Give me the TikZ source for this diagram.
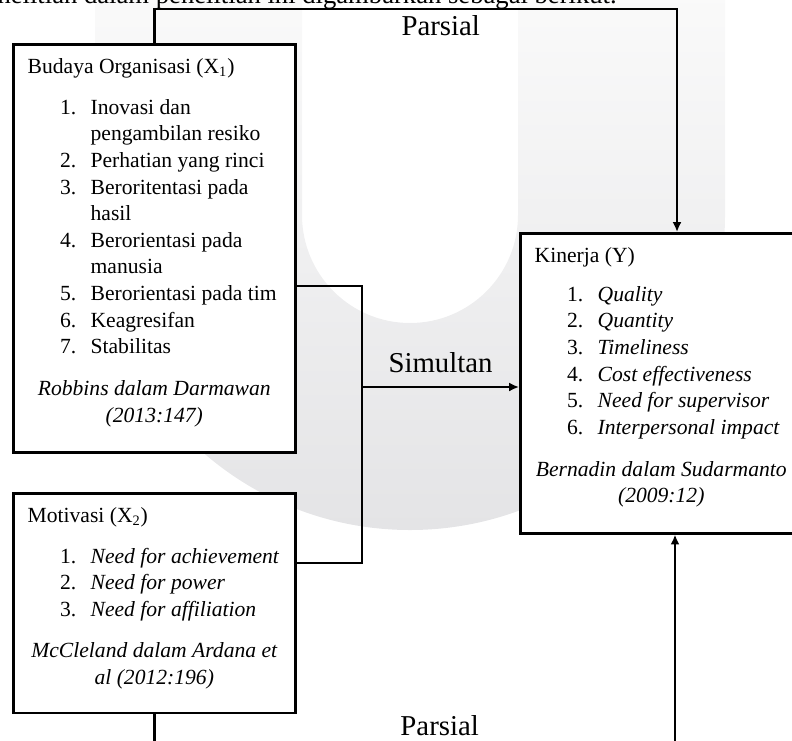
\documentclass[tikz,border=0pt]{standalone}
\usepackage{fontspec}
\setmainfont{Liberation Serif}
\usepackage{tikz}
\usetikzlibrary{arrows.meta}

\definecolor{wmatas}{RGB}{250,250,250}
\definecolor{wmbawah}{RGB}{228,228,230}
\newcommand{\butir}[2]{\hspace*{18pt}\makebox[17pt][l]{#1}#2}
\tikzset{
  kotak/.style={draw,line width=1.4pt,fill=white,inner xsep=8pt,inner ysep=0pt,
    anchor=north west,font=\fontsize{12}{14.8}\selectfont},
  garis/.style={line width=1.4pt},
  tulisan/.style={font=\fontsize{16}{19}\selectfont,anchor=base,inner sep=0pt}
}

\begin{document}
\begin{tikzpicture}[x=0.5556pt,y=-0.5556pt,>={Latex[length=5.5pt,width=5pt]}]
        \useasboundingbox (0,0) rectangle (792,740);
        \clip (0,0) rectangle (792,740);
        % 绘制水印
        \shade[top color=wmatas,bottom color=wmbawah,even odd rule]
          (95,-10)--(95,215) arc (180:0:315)--(725,-10)--cycle
          (302,-10)--(302,215) arc (180:0:108)--(518,-10)--cycle;
        % 正文
        \node[tulisan,font=\fontsize{14.8}{17}\selectfont,anchor=base east](kalimat)at(617,3){penelitian dalam penelitian ini digambarkan sebagai berikut.};
        % 绘制方框
        \node[kotak](budaya)at(12,43){\parbox[t][226.7pt][t]{140.7pt}{%
          \rule{0pt}{16pt}Budaya Organisasi (X\textsubscript{1})\\[8pt]
          \butir{1.}{Inovasi dan}\\
          \butir{}{pengambilan resiko}\\
          \butir{2.}{Perhatian yang rinci}\\
          \butir{3.}{Beroritentasi pada}\\
          \butir{}{hasil}\\
          \butir{4.}{Berorientasi pada}\\
          \butir{}{manusia}\\
          \butir{5.}{Berorientasi pada tim}\\
          \butir{6.}{Keagresifan}\\
          \butir{7.}{Stabilitas}\par\vspace{8.3pt}
          {\centering\itshape Robbins dalam Darmawan\\(2013:147)\par}}};
        \node[kotak](motivasi)at(12,492){\parbox[t][122.2pt][t]{140.7pt}{%
          \rule{0pt}{16pt}Motivasi (X\textsubscript{2})\\[8pt]
          \butir{1.}{\textit{Need for achievement}}\\
          \butir{2.}{\textit{Need for power}}\\
          \butir{3.}{\textit{Need for affiliation}}\par\vspace{8.3pt}
          {\centering\itshape McCleland dalam Ardana et\\al (2012:196)\par}}};
        \node[kotak](kinerja)at(519,232){\parbox[t][166.7pt][t]{140.7pt}{%
          \rule{0pt}{16pt}Kinerja (Y)\\[7pt]
          \butir{1.}{\textit{Quality}}\\
          \butir{2.}{\textit{Quantity}}\\
          \butir{3.}{\textit{Timeliness}}\\
          \butir{4.}{\textit{Cost effectiveness}}\\
          \butir{5.}{\textit{Need for supervisor}}\\
          \butir{6.}{\textit{Interpersonal impact}}\par\vspace{8.3pt}
          {\centering\itshape Bernadin dalam Sudarmanto\\(2009:12)\par}}};
        % 绘制连线
        \coordinate(atas)at(677,9);
        \coordinate(bawah)at(675,752);
        \coordinate(simpul)at(362,387);
        \path(budaya.north east)++(0,243)coordinate(keluar1)
             (motivasi.north east)++(0,71)coordinate(keluar2);
        \draw[garis,->](budaya.north)|-(atas)node[tulisan,pos=0.774,yshift=-15pt]{Parsial}--(atas|-kinerja.north);
        \draw[garis,->](motivasi.south)|-(bawah)node[tulisan,pos=0.774,yshift=8.9pt]{Parsial}--(bawah|-kinerja.south);
        \draw[garis](keluar1)-|(simpul)|-(keluar2);
        \draw[garis,->](simpul)--(simpul-|kinerja.west)node[tulisan,midway,yshift=8.3pt]{Simultan};
    \end{tikzpicture}
\end{document}
